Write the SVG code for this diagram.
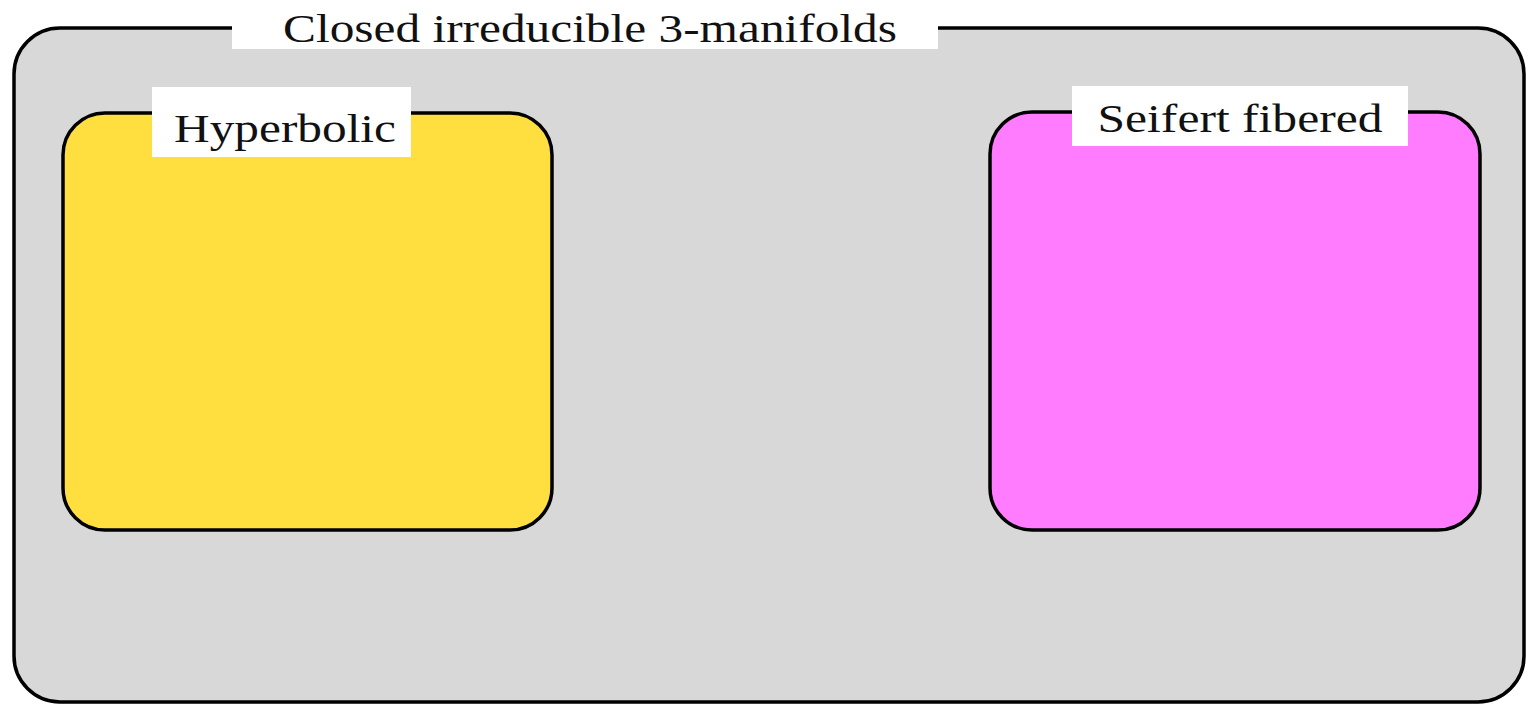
<svg xmlns="http://www.w3.org/2000/svg" width="1528" height="705" viewBox="0 0 1528 705">
  <style>
    .box { stroke: #000; stroke-width: 3.5; }
    .tag { fill: #fff; }
    .lbl { font-family: "Liberation Serif", "DejaVu Serif", serif; font-size: 41px; fill: #111; text-anchor: middle; }
  </style>
  <rect width="1528" height="705" fill="#fff"/>
  <g id="closed-irreducible">
    <rect class="box" x="14" y="28" width="1510" height="674" rx="46" ry="46" fill="#d8d8d8"/>
    <rect class="tag" x="232" y="0" width="706" height="49"/>
    <text class="lbl" x="590" y="42" textLength="614" lengthAdjust="spacingAndGlyphs">Closed irreducible 3-manifolds</text>
  </g>
  <g id="hyperbolic">
    <rect class="box" x="63" y="113" width="489" height="417" rx="42" ry="42" fill="#ffdf40"/>
    <rect class="tag" x="152" y="87" width="259" height="70"/>
    <text class="lbl" x="285" y="142" textLength="222" lengthAdjust="spacingAndGlyphs">Hyperbolic</text>
  </g>
  <g id="seifert-fibered">
    <rect class="box" x="990" y="112" width="490" height="418" rx="42" ry="42" fill="#ff7bff"/>
    <rect class="tag" x="1072" y="86" width="336" height="60"/>
    <text class="lbl" x="1240" y="132" textLength="285" lengthAdjust="spacingAndGlyphs">Seifert fibered</text>
  </g>
  <g id="connectors"/>
</svg>
